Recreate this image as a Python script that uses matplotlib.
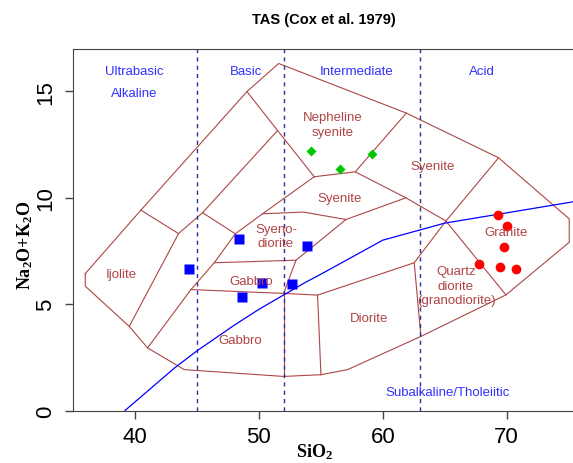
import matplotlib.pyplot as plt

plt.rcParams['font.family'] = ['Liberation Sans', 'DejaVu Sans']
plt.rcParams['mathtext.fontset'] = 'custom'
plt.rcParams['mathtext.rm'] = 'Liberation Serif:bold'
plt.rcParams['mathtext.it'] = 'Liberation Serif:bold'
plt.rcParams['mathtext.bf'] = 'Liberation Serif:bold'

# samples (SiO2, Na2O+K2O)
gabbro_sio2 = [48.42, 44.33, 50.22, 52.64, 48.6, 53.88]
gabbro_alk = [8.07, 6.64, 5.98, 5.96, 5.35, 7.72]
syenite_sio2 = [54.2, 56.54, 59.13]
syenite_alk = [12.18, 11.32, 12.07]
granite_sio2 = [69.27, 70.05, 69.81, 67.73, 69.43, 70.72]
granite_alk = [9.19, 8.66, 7.69, 6.86, 6.72, 6.64]

# Cox et al. (1979) plutonic fields
outline = [(35.99, 6.43), (40.48, 9.41), (49.04, 14.98), (51.6, 16.3),
           (61.9, 13.97), (69.35, 11.87), (75.05, 9.0), (75.05, 7.9),
           (69.94, 5.43), (63.08, 3.48), (57.16, 1.92), (55.01, 1.68),
           (52.0, 1.6), (43.98, 1.92), (41.02, 2.94), (39.54, 3.95),
           (35.99, 5.84), (35.99, 6.43)]
inner_lines = [
    [(40.48, 9.41), (43.52, 8.31), (39.54, 3.95)],
    [(43.52, 8.31), (45.46, 9.29), (51.51, 13.15)],
    [(49.04, 14.98), (51.51, 13.15), (54.47, 10.98)],
    [(45.46, 9.29), (48.1, 8.3)],
    [(41.02, 2.94), (44.52, 5.68), (46.4, 6.94), (48.1, 8.3), (50.3, 9.24), (54.47, 10.98)],
    [(54.47, 10.98), (57.78, 11.21), (61.9, 13.97)],
    [(57.78, 11.21), (61.87, 9.99), (65.1, 8.9), (69.35, 11.87)],
    [(50.3, 9.24), (53.6, 9.32), (57.03, 8.97), (61.87, 9.99)],
    [(44.52, 5.68), (52.0, 5.5), (54.74, 5.42), (62.54, 6.94), (65.1, 8.9), (69.94, 5.43)],
    [(46.4, 6.94), (53.0, 7.06)],
    [(52.0, 5.5), (53.0, 7.06), (57.03, 8.97)],
    [(52.0, 5.5), (52.0, 1.6)],
    [(54.74, 5.42), (55.01, 1.68)],
    [(62.54, 6.94), (63.08, 3.48)],
]
field_names = ["Nepheline\nsyenite", "Syenite", "Syenite", "Syeno-\ndiorite", "Gabbro",
               "Gabbro", "Ijolite", "Diorite", "Quartz\ndiorite\n(granodiorite)", "Granite"]
field_x = [55.95, 64.02, 56.49, 51.38, 49.36, 48.5, 38.87, 58.91, 65.91, 69.94]
field_y = [13.43, 11.48, 9.99, 8.19, 6.07, 3.33, 6.43, 4.35, 5.87, 8.39]

# Irvine & Baragar (1971) alkaline / subalkaline divide
ib_sio2 = [39.2, 40, 43.2, 45, 48, 50, 53.7, 55, 60, 65, 77.4]
ib_alk = [0, 0.4, 2, 2.8, 4, 4.75, 6, 6.4, 8, 8.8, 10]

silica_limits = [45, 52, 63]
series_names = ["Ultrabasic", "Basic", "Intermediate", "Acid"]
series_x = [39.94, 48.96, 57.92, 68.0]

fig = plt.figure(figsize=(5.73, 4.64), dpi=100)
ax = fig.add_axes([73 / 573, (464 - 411.5) / 464, 502 / 573, 17 * 21.29 / 464])
ax.set_xlim(35, 35 + 502 / 12.39)
ax.set_ylim(0, 17)

brown = '#AD4646'
ax.plot([p[0] for p in outline], [p[1] for p in outline], color=brown, lw=0.8)
for line in inner_lines:
    ax.plot([p[0] for p in line], [p[1] for p in line], color=brown, lw=0.8)
for name, x, y in zip(field_names, field_x, field_y):
    ax.text(x, y, name, color='#B04444', fontsize=9.5, ha='center', va='center',
            linespacing=1.25)

for x in silica_limits:
    ax.axvline(x, color='#2F2F9A', lw=1, ls=(0, (3, 3)))
ax.plot(ib_sio2, ib_alk, color='blue', lw=0.9)

for name, x in zip(series_names, series_x):
    ax.text(x, 15.94, name, color='#3030FF', fontsize=9.5, ha='center', va='center')
ax.text(39.94, 14.92, "Alkaline", color='#3030FF', fontsize=9.5, ha='center', va='center')
ax.text(65.23, 0.86, "Subalkaline/Tholeiitic", color='#3030FF', fontsize=9.5,
        ha='center', va='center')

ax.plot(gabbro_sio2, gabbro_alk, 's', color='blue', ms=7.5, mec='none')
ax.plot(syenite_sio2, syenite_alk, 'D', color='#00C800', ms=5, mec='none')
ax.plot(granite_sio2, granite_alk, 'o', color='red', ms=7, mec='none')

for s in ax.spines.values():
    s.set_color('#444444')
ax.set_xticks([40, 50, 60, 70])
ax.set_yticks([0, 5, 10, 15])
ax.set_yticklabels(['0', '5', '10', '15'], rotation=90, va='center')
ax.tick_params(direction='out', length=6, width=1, labelsize=16, color='#444444', pad=5)
ax.tick_params(axis='y', pad=6)

fig.text(324 / 573, 1 - 20 / 464, "TAS (Cox et al. 1979)", fontsize=10.5,
         fontweight='bold', ha='center', va='center')
fig.text(314 / 573, 1 - 452 / 464, r'$\mathrm{SiO_2}$', fontsize=13, ha='center', va='center')
fig.text(25 / 573, 1 - 245 / 464, r'$\mathrm{Na_2O{+}K_2O}$', fontsize=13, ha='center',
         va='center', rotation=90)

fig.savefig('out.png', dpi=100)
